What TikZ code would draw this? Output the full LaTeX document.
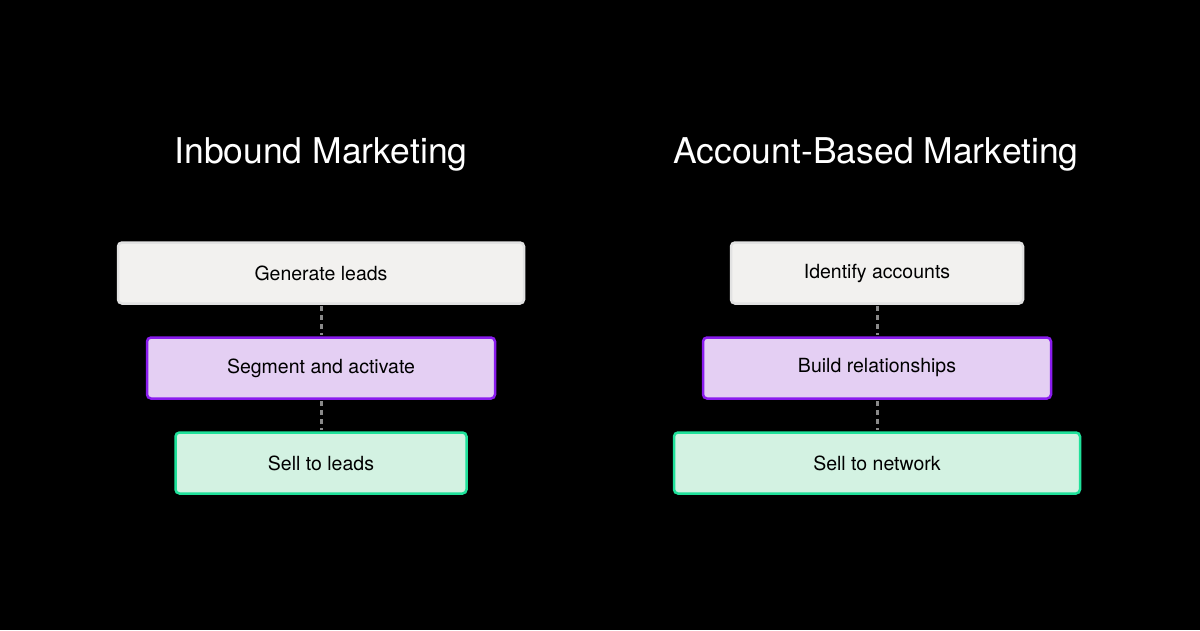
\documentclass[tikz,border=0pt]{standalone}
\usepackage{fontspec}
\setmainfont{TeX Gyre Heros}
\begin{document}
\begin{tikzpicture}[x=1pt,y=-1pt,
  box/.style={draw, line width=2.5pt, rounded corners=4pt, minimum height=61pt, inner sep=0pt, font=\fontsize{19.5}{22}\selectfont, text=black},
  gen/.style={box, fill=boxgray, draw=bordergray},
  seg/.style={box, fill=boxpurple, draw=borderpurple},
  sell/.style={box, fill=boxgreen, draw=bordergreen},
  title/.style={text=white, font=\fontsize{35.5}{40}\selectfont},
  conn/.style={draw=conngray, line width=3pt, dash pattern=on 5pt off 4pt, shorten >=1.5pt, shorten <=1.5pt}]
\definecolor{boxgray}{HTML}{F2F1EF}
\definecolor{bordergray}{HTML}{E2E2E2}
\definecolor{boxpurple}{HTML}{E4CFF3}
\definecolor{borderpurple}{HTML}{8A1CEE}
\definecolor{boxgreen}{HTML}{D3F2E2}
\definecolor{bordergreen}{HTML}{1FE19A}
\definecolor{conngray}{HTML}{8A8A8A}
\fill[black] (0,0) rectangle (1200,630);
\useasboundingbox (0,0) rectangle (1200,630);
\node[title] (t1) at (321,154) {Inbound Marketing};
\node[title] (t2) at (876,154) {Account-Based Marketing};
\node[gen, minimum width=406pt] (a1) at (321,273) {Generate leads};
\node[seg, minimum width=348pt] (a2) at (321,368) {Segment and activate};
\node[sell, minimum width=291pt] (a3) at (321,463) {Sell to leads};
\node[gen, minimum width=292pt] (b1) at (877,273) {Identify accounts};
\node[seg, minimum width=348pt] (b2) at (877,368) {Build relationships};
\node[sell, minimum width=406pt] (b3) at (877,463) {Sell to network};
\draw[conn] (a1.south) -- (a2.north);
\draw[conn] (a2.south) -- (a3.north);
\draw[conn] (b1.south) -- (b2.north);
\draw[conn] (b2.south) -- (b3.north);
\end{tikzpicture}
\end{document}
